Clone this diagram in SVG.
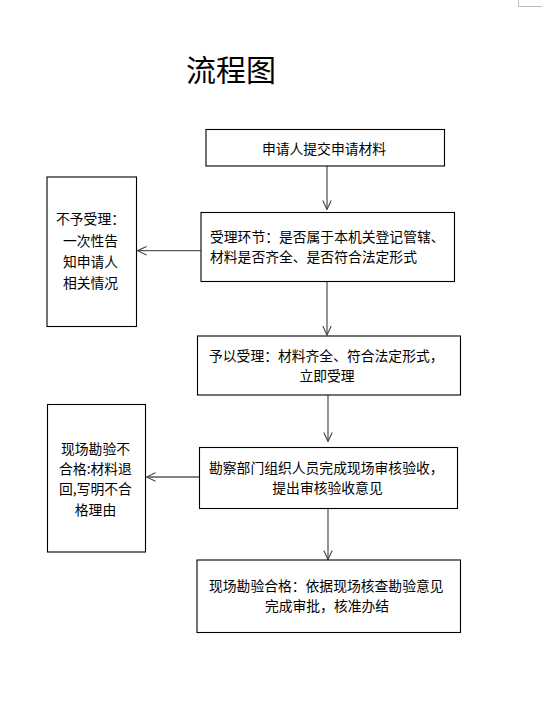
<svg xmlns="http://www.w3.org/2000/svg" width="544" height="720" viewBox="0 0 544 720">
<defs>
<marker id="arr" viewBox="0 0 10 10" refX="9.5" refY="5" markerWidth="10" markerHeight="10" markerUnits="userSpaceOnUse" orient="auto">
<path d="M0.5,0.8 L9.5,5 L0.5,9.2" fill="none" stroke="#444" stroke-width="1.1"/>
</marker>
</defs>
<style>
.box{fill:#fff;stroke:#000;stroke-width:1.1}
.t{font-family:"Noto Sans CJK SC","Liberation Sans",sans-serif;font-size:13.8px;fill:#000}
.m{text-anchor:middle}
.c{fill:none;stroke:#5a5a5a;stroke-width:1.3;marker-end:url(#arr)}
</style>
<rect width="544" height="720" fill="#fff"/>
<path d="M518.5,0 V6.5 H542" fill="none" stroke="#bdbdbd" stroke-width="1"/>
<text x="231" y="81" class="t m" style="font-size:30px">流程图</text>
<g id="connectors">
<path class="c" d="M327,166 V209.5"/>
<path class="c" d="M200.7,250.7 H137.5"/>
<path class="c" d="M327,281.7 V335"/>
<path class="c" d="M328,395 V441.5"/>
<path class="c" d="M199.3,477 H146.5"/>
<path class="c" d="M328,508.3 V559.5"/>
</g>
<g id="n1">
<rect class="box" x="206" y="129.5" width="238.5" height="36.5"/>
<text x="324" y="154" class="t m">申请人提交申请材料</text>
</g>
<g id="n2">
<rect class="box" x="201" y="212.5" width="253.5" height="69"/>
<text x="210" y="242" class="t">受理环节：是否属于本机关登记管辖、</text>
<text x="210" y="262" class="t">材料是否齐全、是否符合法定形式</text>
</g>
<g id="n3">
<rect class="box" x="47" y="177" width="89.5" height="149.5"/>
<text x="90.5" y="224" class="t m">不予受理：</text>
<text x="90.5" y="246" class="t m">一次性告</text>
<text x="90.5" y="267" class="t m">知申请人</text>
<text x="90.5" y="288" class="t m">相关情况</text>
</g>
<g id="n4">
<rect class="box" x="197.5" y="336" width="263" height="59"/>
<text x="209" y="361" class="t">予以受理：材料齐全、符合法定形式，</text>
<text x="327" y="381" class="t m">立即受理</text>
</g>
<g id="n5">
<rect class="box" x="199.5" y="447.5" width="258" height="61"/>
<text x="209" y="472.5" class="t">勘察部门组织人员完成现场审核验收，</text>
<text x="327.5" y="492.5" class="t m">提出审核验收意见</text>
</g>
<g id="n6">
<rect class="box" x="47.5" y="404.5" width="98" height="147.5"/>
<text x="95.5" y="453.5" class="t m">现场勘验不</text>
<text x="95.5" y="473.5" class="t m">合格:材料退</text>
<text x="95.5" y="493.5" class="t m">回,写明不合</text>
<text x="95.5" y="515" class="t m">格理由</text>
</g>
<g id="n7">
<rect class="box" x="197" y="560" width="263.5" height="72.5"/>
<text x="209" y="591" class="t">现场勘验合格：依据现场核查勘验意见</text>
<text x="327" y="611" class="t m">完成审批，核准办结</text>
</g>
</svg>
